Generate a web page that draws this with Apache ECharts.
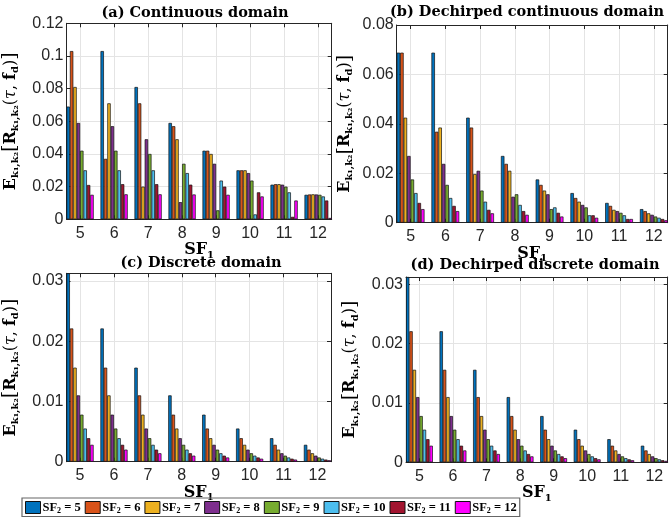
<!DOCTYPE html>
<html>
<head>
<meta charset="utf-8">
<script src="https://cdn.jsdelivr.net/npm/echarts@6/dist/echarts.min.js"></script>
<style>
  html, body { margin: 0; padding: 0; background: #fff; }
  #chart { width: 669px; height: 522px; }
</style>
</head>
<body>
<div id="chart"></div>
<script>
// Spreading factors of the reference chirp (x axis) and the interfering chirp (series)
const SF1 = [5, 6, 7, 8, 9, 10, 11, 12];
const SF2 = ['5', '6', '7', '8', '9', '10', '11', '12'];
const COLORS = ['#0072BD', '#D95319', '#EDB120', '#7E2F8E', '#77AC30', '#4DBEEE', '#A2142F', '#FF00FF'];

// One row per SF1 value, one column per SF2 value
const continuous = [
  [0.069, 0.103, 0.081, 0.059, 0.042, 0.030, 0.021, 0.015],
  [0.103, 0.037, 0.071, 0.057, 0.042, 0.030, 0.0215, 0.0153],
  [0.081, 0.071, 0.020, 0.049, 0.040, 0.030, 0.0215, 0.0153],
  [0.059, 0.057, 0.049, 0.0105, 0.034, 0.0283, 0.0212, 0.0152],
  [0.042, 0.042, 0.040, 0.034, 0.0055, 0.0237, 0.020, 0.015],
  [0.030, 0.030, 0.030, 0.0283, 0.0237, 0.003, 0.0165, 0.014],
  [0.0212, 0.0215, 0.0215, 0.0212, 0.020, 0.0165, 0.0015, 0.0115],
  [0.015, 0.0152, 0.0153, 0.0152, 0.015, 0.014, 0.0115, 0.0008]
];
const dechirpedContinuous = [
  [0.0688, 0.0688, 0.0425, 0.027, 0.0175, 0.012, 0.008, 0.0055],
  [0.0688, 0.0368, 0.0385, 0.0238, 0.0153, 0.010, 0.0068, 0.0047],
  [0.0425, 0.0385, 0.0197, 0.021, 0.013, 0.0085, 0.0052, 0.0038],
  [0.027, 0.0238, 0.021, 0.0105, 0.0115, 0.0072, 0.0047, 0.0032],
  [0.0175, 0.0153, 0.013, 0.0115, 0.0055, 0.0062, 0.004, 0.0025],
  [0.012, 0.010, 0.0085, 0.0072, 0.0062, 0.003, 0.003, 0.002],
  [0.008, 0.0068, 0.0052, 0.0047, 0.004, 0.003, 0.0015, 0.0015],
  [0.0055, 0.0047, 0.0038, 0.0032, 0.0025, 0.002, 0.0015, 0.001]
];
const discrete = [
  [0.03125, 0.0221, 0.0156, 0.0110, 0.0078, 0.0055, 0.0039, 0.0028],
  [0.0221, 0.0156, 0.0110, 0.0078, 0.0055, 0.0039, 0.0028, 0.0020],
  [0.0156, 0.0110, 0.0078, 0.0055, 0.0039, 0.0028, 0.0020, 0.0014],
  [0.0110, 0.0078, 0.0055, 0.0039, 0.0028, 0.0020, 0.0014, 0.0010],
  [0.0078, 0.0055, 0.0039, 0.0028, 0.0020, 0.0014, 0.0010, 0.0007],
  [0.0055, 0.0039, 0.0028, 0.0020, 0.0014, 0.0010, 0.0007, 0.0005],
  [0.0039, 0.0028, 0.0020, 0.0014, 0.0010, 0.0007, 0.0005, 0.00035],
  [0.0028, 0.0020, 0.0014, 0.0010, 0.0007, 0.0005, 0.00035, 0.00024]
];
const dechirpedDiscrete = [
  [0.03125, 0.0221, 0.0156, 0.0110, 0.0078, 0.0055, 0.0039, 0.0028],
  [0.0221, 0.0156, 0.0110, 0.0078, 0.0055, 0.0039, 0.0028, 0.0020],
  [0.0156, 0.0110, 0.0078, 0.0055, 0.0039, 0.0028, 0.0020, 0.0014],
  [0.0110, 0.0078, 0.0055, 0.0039, 0.0028, 0.0020, 0.0014, 0.0010],
  [0.0078, 0.0055, 0.0039, 0.0028, 0.0020, 0.0014, 0.0010, 0.0007],
  [0.0055, 0.0039, 0.0028, 0.0020, 0.0014, 0.0010, 0.0007, 0.0005],
  [0.0039, 0.0028, 0.0020, 0.0014, 0.0010, 0.0007, 0.0005, 0.00035],
  [0.0028, 0.0020, 0.0014, 0.0010, 0.0007, 0.0005, 0.00035, 0.00024]
];

const TITLES = ['(a) Continuous domain', '(b) Dechirped continuous domain',
                '(c) Discrete domain', '(d) Dechirped discrete domain'];

const panels = [
  { data: continuous, yMax: 0.12, yStep: 0.02,
    grid: { left: 66, top: 23.3, right: 337.3, bottom: 302.7 }, nameGap: 46, title: [195, 13] },
  { data: dechirpedContinuous, yMax: 0.08, yStep: 0.02,
    grid: { left: 396.7, top: 25, right: 1.3, bottom: 299.3 }, nameGap: 42, title: [527, 12] },
  { data: discrete, yMax: 0.03125, yStep: 0.01,
    grid: { left: 66, top: 273.3, right: 338, bottom: 60.3 }, nameGap: 46, title: [201, 263] },
  { data: dechirpedDiscrete, yMax: 0.03125, yStep: 0.01,
    grid: { left: 406, top: 277, right: 1.3, bottom: 59.7 }, nameGap: 46, title: [535, 265] }
];

const AX = '#262626';
const GRIDLINE = '#e4e4e4';
const SERIF = '"DejaVu Serif", "Liberation Serif", serif';
const LSERIF = '"Liberation Serif", "DejaVu Serif", serif';
const SANS = '"Liberation Sans", Arial, sans-serif';

const mathRich = {
  m: { fontFamily: SERIF, fontWeight: 'bold', fontSize: 16, color: '#000', lineHeight: 20 },
  r: { fontFamily: SERIF, fontSize: 16, color: '#000', lineHeight: 20 },
  t: { fontFamily: SERIF, fontStyle: 'italic', fontSize: 16, color: '#000', lineHeight: 20 },
  br: { fontFamily: SERIF, fontSize: 19, color: '#000', lineHeight: 20 },
  s: { fontFamily: SERIF, fontWeight: 'bold', fontSize: 10, color: '#000', lineHeight: 12, verticalAlign: 'bottom' }
};
const yName = '{m|E}{s|k₁,k₂}{br|[}{m|R}{s|k₁,k₂}{r|(}{t|τ}{r|, }{m|f}{s|d}{r|)}{br|]}';
const xName = '{m|SF}{s|1}';

const fmt = v => String(parseFloat(v.toFixed(4)));

const grids = [], xAxes = [], yAxes = [], series = [], graphics = [];

panels.forEach((p, i) => {
  grids.push(Object.assign({ containLabel: false }, p.grid));
  // bottom axis with SF1 ticks
  xAxes.push({
    type: 'value', gridIndex: i, min: 4.6, max: 12.4,
    name: xName, nameLocation: 'middle', nameGap: 20,
    nameTextStyle: { rich: mathRich, verticalAlign: 'top' },
    axisLine: { show: true, onZero: false, lineStyle: { color: AX, width: 1 } },
    axisTick: { show: true, inside: true, length: 4, customValues: SF1, lineStyle: { color: AX } },
    axisLabel: { customValues: SF1, color: AX, fontFamily: SANS, fontSize: 16, margin: 6 },
    splitLine: { show: true, lineStyle: { color: GRIDLINE, width: 1 } }
  });
  // top edge of the box
  xAxes.push({
    type: 'value', gridIndex: i, min: 4.6, max: 12.4, position: 'top',
    axisLine: { show: true, onZero: false, lineStyle: { color: AX, width: 1 } },
    axisTick: { show: true, inside: true, length: 4, customValues: SF1, lineStyle: { color: AX } },
    axisLabel: { show: false, customValues: SF1 },
    splitLine: { show: false }
  });
  yAxes.push({
    type: 'value', gridIndex: i, min: 0, max: p.yMax, interval: p.yStep,
    name: yName, nameLocation: 'middle', nameGap: p.nameGap, nameRotate: 90,
    nameTextStyle: { rich: mathRich },
    axisLine: { show: true, onZero: false, lineStyle: { color: AX, width: 1 } },
    axisTick: { show: true, inside: true, length: 4, lineStyle: { color: AX } },
    axisLabel: { color: AX, fontFamily: SANS, fontSize: 16, margin: 3, formatter: fmt, showMaxLabel: p.yMax === 0.12 || p.yMax === 0.08 },
    splitLine: { show: true, lineStyle: { color: GRIDLINE, width: 1 } }
  });
  // right edge of the box
  yAxes.push({
    type: 'value', gridIndex: i, min: 0, max: p.yMax, interval: p.yStep, position: 'right',
    axisLine: { show: true, onZero: false, lineStyle: { color: AX, width: 1 } },
    axisTick: { show: true, inside: true, length: 4, lineStyle: { color: AX } },
    axisLabel: { show: false },
    splitLine: { show: false }
  });

  SF2.forEach((name, s) => {
    series.push({
      type: 'bar', name: name,
      xAxisIndex: i * 2, yAxisIndex: i * 2,
      barGap: '0%', barCategoryGap: '20%',
      itemStyle: { color: COLORS[s], borderColor: '#111', borderWidth: 0.7 },
      emphasis: { disabled: true },
      data: SF1.map((x, k) => [x, p.data[k][s]])
    });
  });

  graphics.push({
    type: 'text', x: p.title[0], y: p.title[1],
    style: {
      text: TITLES[i], fill: '#000', align: 'center', verticalAlign: 'middle',
      font: 'bold 14.5px ' + SERIF
    }
  });
});

const chart = echarts.init(document.getElementById('chart'), null, { renderer: 'canvas' });
chart.setOption({
  animation: false,
  backgroundColor: '#fff',
  grid: grids,
  xAxis: xAxes,
  yAxis: yAxes,
  series: series,
  graphic: graphics,
  legend: {
    data: SF2, left: 22, top: 498,
    padding: [3, 3, 2, 3], itemGap: 4, itemWidth: 15, itemHeight: 12,
    borderColor: '#666', borderWidth: 1.2,
    icon: 'rect',
    itemStyle: { borderColor: '#111', borderWidth: 1 },
    formatter: n => '{m|SF}{s|2}{m| = ' + n + '}',
    textStyle: {
      padding: [0, 0, 0, -3],
      rich: {
        m: { fontFamily: LSERIF, fontWeight: 'bold', fontSize: 12.5, color: '#000', lineHeight: 14 },
        s: { fontFamily: LSERIF, fontWeight: 'bold', fontSize: 8, color: '#000', lineHeight: 9, verticalAlign: 'bottom' }
      }
    }
  }
});
</script>
</body>
</html>
